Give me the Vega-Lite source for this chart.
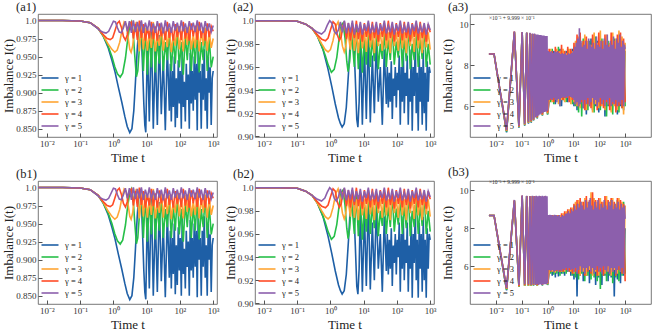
{
"$schema": "https://vega.github.io/schema/vega-lite/v6.json",
"background": "white",
"padding": {"left": 2, "top": 0, "right": 0, "bottom": 1},
"config": {
  "font": "Liberation Serif",
  "view": {"stroke": "#555", "strokeWidth": 0.8},
  "axis": {"domain": false, "grid": false, "tickSize": -4, "tickColor": "#555", "labelFont": "Liberation Serif", "labelFontSize": 9, "labelColor": "#333", "titleFont": "Liberation Serif", "titleFontSize": 13, "titleFontWeight": "normal", "titleColor": "#222", "labelPadding": 6},
  "axisX": {"titlePadding": 3},
  "axisY": {"titlePadding": 0},
  "legend": {"orient": "bottom-left", "offset": 6, "symbolType": "M-1.7,0L1.7,0", "symbolStrokeWidth": 2, "symbolSize": 100, "labelFont": "Liberation Serif", "labelFontSize": 8.5, "labelColor": "#222", "rowPadding": 1, "padding": 0, "labelOffset": 9},
  "title": {"anchor": "start", "frame": "group", "dx": -22, "fontSize": 12.5, "font": "Liberation Serif", "fontWeight": "normal", "offset": 1, "color": "#222"},
  "line": {"strokeWidth": 1.6, "clip": true}
},
"datasets": {
"a1": [
{"g":1,"t":0.0054,"v":1},{"g":1,"t":0.03,"v":1},{"g":1,"t":0.1,"v":0.9993},{"g":1,"t":0.2,"v":0.997},{"g":1,"t":0.35,"v":0.9885},{"g":1,"t":0.5,"v":0.978},{"g":1,"t":0.7,"v":0.962},{"g":1,"t":0.9,"v":0.945},{"g":1,"t":1.12,"v":0.9285},{"g":1,"t":1.4,"v":0.908},{"g":1,"t":1.78,"v":0.887},{"g":1,"t":2.2,"v":0.867},{"g":1,"t":2.6,"v":0.853},{"g":1,"t":3.1,"v":0.8445},{"g":1,"t":3.6,"v":0.85},{"g":1,"t":4.1,"v":0.875},{"g":1,"t":4.6,"v":0.915},{"g":1,"t":5.2,"v":0.96},{"g":1,"t":5.8,"v":0.99},{"g":1,"t":6.4,"v":0.998},{"g":1,"t":7,"v":0.975},{"g":1,"t":7.6,"v":0.93},{"g":1,"t":8.2,"v":0.885},{"g":1,"t":8.8,"v":0.855},{"g":1,"t":9.4,"v":0.845},{"g":1,"t":10.5,"v":0.97},{"g":1,"t":12,"v":0.86},{"g":1,"t":13.8,"v":0.99},{"g":1,"t":15.8,"v":0.85},{"g":1,"t":18.2,"v":0.96},{"g":1,"t":20.9,"v":0.855},{"g":1,"t":24,"v":0.98},{"g":1,"t":27.5,"v":0.87},{"g":1,"t":31.6,"v":0.95},{"g":1,"t":36.3,"v":0.848},{"g":1,"t":41.7,"v":0.965},{"g":1,"t":47.9,"v":0.875},{"g":1,"t":51.3,"v":0.94},{"g":1,"t":55,"v":0.86},{"g":1,"t":58.9,"v":0.93},{"g":1,"t":63.1,"v":0.88},{"g":1,"t":67.6,"v":0.95},{"g":1,"t":72.4,"v":0.852},{"g":1,"t":77.6,"v":0.92},{"g":1,"t":83.2,"v":0.865},{"g":1,"t":89.1,"v":0.945},{"g":1,"t":95.5,"v":0.885},{"g":1,"t":102,"v":0.93},{"g":1,"t":110,"v":0.85},{"g":1,"t":117,"v":0.96},{"g":1,"t":126,"v":0.88},{"g":1,"t":135,"v":0.915},{"g":1,"t":145,"v":0.86},{"g":1,"t":155,"v":0.94},{"g":1,"t":166,"v":0.89},{"g":1,"t":178,"v":0.925},{"g":1,"t":191,"v":0.85},{"g":1,"t":204,"v":0.955},{"g":1,"t":219,"v":0.885},{"g":1,"t":234,"v":0.93},{"g":1,"t":251,"v":0.875},{"g":1,"t":269,"v":0.95},{"g":1,"t":288,"v":0.89},{"g":1,"t":309,"v":0.94},{"g":1,"t":331,"v":0.848},{"g":1,"t":355,"v":0.97},{"g":1,"t":380,"v":0.9},{"g":1,"t":407,"v":0.93},{"g":1,"t":437,"v":0.85},{"g":1,"t":468,"v":0.94},{"g":1,"t":501,"v":0.89},{"g":1,"t":537,"v":0.96},{"g":1,"t":575,"v":0.875},{"g":1,"t":617,"v":0.92},{"g":1,"t":661,"v":0.85},{"g":1,"t":708,"v":0.95},{"g":1,"t":759,"v":0.9},{"g":1,"t":813,"v":0.935},{"g":1,"t":871,"v":0.855},{"g":1,"t":933,"v":0.92},{"g":1,"t":1000,"v":0.93},
{"g":2,"t":0.0054,"v":1},{"g":2,"t":0.03,"v":1},{"g":2,"t":0.1,"v":0.9993},{"g":2,"t":0.2,"v":0.997},{"g":2,"t":0.35,"v":0.989},{"g":2,"t":0.5,"v":0.978},{"g":2,"t":0.7,"v":0.964},{"g":2,"t":0.9,"v":0.95},{"g":2,"t":1.1,"v":0.936},{"g":2,"t":1.32,"v":0.926},{"g":2,"t":1.6,"v":0.9216},{"g":2,"t":1.9,"v":0.927},{"g":2,"t":2.3,"v":0.948},{"g":2,"t":2.7,"v":0.975},{"g":2,"t":3.1,"v":0.993},{"g":2,"t":3.5,"v":0.998},{"g":2,"t":3.9,"v":0.985},{"g":2,"t":4.4,"v":0.95},{"g":2,"t":4.9,"v":0.922},{"g":2,"t":5.4,"v":0.93},{"g":2,"t":6,"v":0.96},{"g":2,"t":6.92,"v":0.995},{"g":2,"t":7.94,"v":0.93},{"g":2,"t":9.12,"v":0.99},{"g":2,"t":10.5,"v":0.925},{"g":2,"t":12,"v":0.985},{"g":2,"t":13.8,"v":0.935},{"g":2,"t":15.8,"v":0.995},{"g":2,"t":18.2,"v":0.928},{"g":2,"t":20.9,"v":0.975},{"g":2,"t":24,"v":0.94},{"g":2,"t":27.5,"v":0.99},{"g":2,"t":31.6,"v":0.93},{"g":2,"t":36.3,"v":0.97},{"g":2,"t":41.7,"v":0.945},{"g":2,"t":47.9,"v":0.985},{"g":2,"t":55,"v":0.93},{"g":2,"t":63.1,"v":0.975},{"g":2,"t":72.4,"v":0.94},{"g":2,"t":83.2,"v":0.99},{"g":2,"t":95.5,"v":0.935},{"g":2,"t":110,"v":0.97},{"g":2,"t":126,"v":0.925},{"g":2,"t":145,"v":0.98},{"g":2,"t":166,"v":0.945},{"g":2,"t":191,"v":0.99},{"g":2,"t":219,"v":0.93},{"g":2,"t":251,"v":0.975},{"g":2,"t":288,"v":0.94},{"g":2,"t":331,"v":0.985},{"g":2,"t":380,"v":0.928},{"g":2,"t":437,"v":0.97},{"g":2,"t":501,"v":0.945},{"g":2,"t":575,"v":0.99},{"g":2,"t":661,"v":0.93},{"g":2,"t":759,"v":0.975},{"g":2,"t":871,"v":0.935},{"g":2,"t":1000,"v":0.95},
{"g":3,"t":0.0054,"v":1},{"g":3,"t":0.03,"v":1},{"g":3,"t":0.1,"v":0.9993},{"g":3,"t":0.2,"v":0.997},{"g":3,"t":0.35,"v":0.989},{"g":3,"t":0.5,"v":0.979},{"g":3,"t":0.7,"v":0.967},{"g":3,"t":0.9,"v":0.96},{"g":3,"t":1.1,"v":0.956},{"g":3,"t":1.3,"v":0.959},{"g":3,"t":1.55,"v":0.97},{"g":3,"t":1.8,"v":0.986},{"g":3,"t":2.1,"v":0.998},{"g":3,"t":2.4,"v":0.995},{"g":3,"t":2.8,"v":0.975},{"g":3,"t":3.1,"v":0.96},{"g":3,"t":3.4,"v":0.956},{"g":3,"t":3.8,"v":0.965},{"g":3,"t":4.3,"v":0.99},{"g":3,"t":4.9,"v":0.998},{"g":3,"t":5.25,"v":0.985},{"g":3,"t":6.03,"v":0.957},{"g":3,"t":6.92,"v":0.995},{"g":3,"t":7.94,"v":0.96},{"g":3,"t":9.12,"v":0.99},{"g":3,"t":10.5,"v":0.958},{"g":3,"t":12,"v":0.985},{"g":3,"t":13.8,"v":0.962},{"g":3,"t":15.8,"v":0.998},{"g":3,"t":18.2,"v":0.957},{"g":3,"t":20.9,"v":0.98},{"g":3,"t":24,"v":0.965},{"g":3,"t":27.5,"v":0.995},{"g":3,"t":31.6,"v":0.958},{"g":3,"t":36.3,"v":0.985},{"g":3,"t":41.7,"v":0.963},{"g":3,"t":47.9,"v":0.99},{"g":3,"t":55,"v":0.956},{"g":3,"t":63.1,"v":0.98},{"g":3,"t":72.4,"v":0.965},{"g":3,"t":83.2,"v":0.995},{"g":3,"t":95.5,"v":0.96},{"g":3,"t":110,"v":0.985},{"g":3,"t":126,"v":0.957},{"g":3,"t":145,"v":0.99},{"g":3,"t":166,"v":0.966},{"g":3,"t":191,"v":0.995},{"g":3,"t":219,"v":0.96},{"g":3,"t":251,"v":0.98},{"g":3,"t":288,"v":0.962},{"g":3,"t":331,"v":0.995},{"g":3,"t":380,"v":0.957},{"g":3,"t":437,"v":0.985},{"g":3,"t":501,"v":0.965},{"g":3,"t":575,"v":0.99},{"g":3,"t":661,"v":0.958},{"g":3,"t":759,"v":0.985},{"g":3,"t":871,"v":0.962},{"g":3,"t":1000,"v":0.975},
{"g":4,"t":0.0054,"v":1},{"g":4,"t":0.03,"v":1},{"g":4,"t":0.1,"v":0.9993},{"g":4,"t":0.2,"v":0.997},{"g":4,"t":0.35,"v":0.989},{"g":4,"t":0.5,"v":0.98},{"g":4,"t":0.65,"v":0.975},{"g":4,"t":0.8,"v":0.9735},{"g":4,"t":0.95,"v":0.976},{"g":4,"t":1.1,"v":0.985},{"g":4,"t":1.3,"v":0.996},{"g":4,"t":1.5,"v":0.999},{"g":4,"t":1.75,"v":0.99},{"g":4,"t":2,"v":0.978},{"g":4,"t":2.3,"v":0.973},{"g":4,"t":2.6,"v":0.98},{"g":4,"t":3,"v":0.995},{"g":4,"t":3.47,"v":0.998},{"g":4,"t":3.98,"v":0.975},{"g":4,"t":4.57,"v":0.995},{"g":4,"t":5.25,"v":0.973},{"g":4,"t":6.03,"v":1},{"g":4,"t":6.92,"v":0.976},{"g":4,"t":7.94,"v":0.995},{"g":4,"t":9.12,"v":0.972},{"g":4,"t":10.5,"v":0.99},{"g":4,"t":12,"v":0.975},{"g":4,"t":13.8,"v":0.998},{"g":4,"t":15.8,"v":0.974},{"g":4,"t":18.2,"v":0.992},{"g":4,"t":20.9,"v":0.972},{"g":4,"t":24,"v":0.996},{"g":4,"t":27.5,"v":0.978},{"g":4,"t":31.6,"v":0.99},{"g":4,"t":36.3,"v":0.973},{"g":4,"t":41.7,"v":0.998},{"g":4,"t":47.9,"v":0.976},{"g":4,"t":55,"v":0.99},{"g":4,"t":63.1,"v":0.972},{"g":4,"t":72.4,"v":0.995},{"g":4,"t":83.2,"v":0.977},{"g":4,"t":95.5,"v":0.992},{"g":4,"t":110,"v":0.973},{"g":4,"t":126,"v":0.998},{"g":4,"t":145,"v":0.975},{"g":4,"t":166,"v":0.99},{"g":4,"t":191,"v":0.972},{"g":4,"t":219,"v":0.996},{"g":4,"t":251,"v":0.978},{"g":4,"t":288,"v":0.993},{"g":4,"t":331,"v":0.973},{"g":4,"t":380,"v":0.998},{"g":4,"t":437,"v":0.976},{"g":4,"t":501,"v":0.99},{"g":4,"t":575,"v":0.972},{"g":4,"t":661,"v":0.996},{"g":4,"t":759,"v":0.977},{"g":4,"t":871,"v":0.992},{"g":4,"t":1000,"v":0.985},
{"g":5,"t":0.0054,"v":1},{"g":5,"t":0.03,"v":1},{"g":5,"t":0.1,"v":0.9993},{"g":5,"t":0.2,"v":0.997},{"g":5,"t":0.3,"v":0.991},{"g":5,"t":0.4,"v":0.986},{"g":5,"t":0.5,"v":0.9835},{"g":5,"t":0.6,"v":0.9826},{"g":5,"t":0.72,"v":0.985},{"g":5,"t":0.85,"v":0.992},{"g":5,"t":1,"v":0.999},{"g":5,"t":1.15,"v":0.998},{"g":5,"t":1.32,"v":0.99},{"g":5,"t":1.5,"v":0.984},{"g":5,"t":1.74,"v":0.983},{"g":5,"t":2,"v":0.99},{"g":5,"t":2.29,"v":0.999},{"g":5,"t":2.63,"v":0.985},{"g":5,"t":3.02,"v":0.999},{"g":5,"t":3.47,"v":0.983},{"g":5,"t":3.98,"v":1},{"g":5,"t":4.57,"v":0.984},{"g":5,"t":5.25,"v":0.998},{"g":5,"t":6.03,"v":0.985},{"g":5,"t":6.92,"v":1},{"g":5,"t":7.94,"v":0.983},{"g":5,"t":9.12,"v":0.997},{"g":5,"t":10.5,"v":0.986},{"g":5,"t":12,"v":1},{"g":5,"t":13.8,"v":0.984},{"g":5,"t":15.8,"v":0.996},{"g":5,"t":18.2,"v":0.983},{"g":5,"t":20.9,"v":0.999},{"g":5,"t":24,"v":0.986},{"g":5,"t":27.5,"v":0.997},{"g":5,"t":31.6,"v":0.982},{"g":5,"t":36.3,"v":1},{"g":5,"t":41.7,"v":0.985},{"g":5,"t":47.9,"v":0.996},{"g":5,"t":55,"v":0.983},{"g":5,"t":63.1,"v":0.999},{"g":5,"t":72.4,"v":0.986},{"g":5,"t":83.2,"v":0.997},{"g":5,"t":95.5,"v":0.984},{"g":5,"t":110,"v":1},{"g":5,"t":126,"v":0.985},{"g":5,"t":145,"v":0.996},{"g":5,"t":166,"v":0.983},{"g":5,"t":191,"v":0.999},{"g":5,"t":219,"v":0.987},{"g":5,"t":251,"v":0.997},{"g":5,"t":288,"v":0.984},{"g":5,"t":331,"v":1},{"g":5,"t":380,"v":0.986},{"g":5,"t":437,"v":0.997},{"g":5,"t":501,"v":0.983},{"g":5,"t":575,"v":0.999},{"g":5,"t":661,"v":0.986},{"g":5,"t":759,"v":0.996},{"g":5,"t":871,"v":0.984},{"g":5,"t":1000,"v":0.993}
],
"a2": [
{"g":1,"t":0.0054,"v":1},{"g":1,"t":0.03,"v":1},{"g":1,"t":0.1,"v":0.9995},{"g":1,"t":0.18,"v":0.997},{"g":1,"t":0.28,"v":0.9934},{"g":1,"t":0.4,"v":0.987},{"g":1,"t":0.6,"v":0.975},{"g":1,"t":0.85,"v":0.958},{"g":1,"t":1.1,"v":0.943},{"g":1,"t":1.4,"v":0.928},{"g":1,"t":1.75,"v":0.916},{"g":1,"t":2,"v":0.911},{"g":1,"t":2.25,"v":0.908},{"g":1,"t":2.6,"v":0.911},{"g":1,"t":3,"v":0.925},{"g":1,"t":3.5,"v":0.955},{"g":1,"t":4,"v":0.985},{"g":1,"t":4.5,"v":0.998},{"g":1,"t":5,"v":0.985},{"g":1,"t":5.6,"v":0.95},{"g":1,"t":6.2,"v":0.915},{"g":1,"t":6.7,"v":0.908},{"g":1,"t":7.3,"v":0.93},{"g":1,"t":7.94,"v":0.985},{"g":1,"t":9.12,"v":0.91},{"g":1,"t":10.5,"v":0.98},{"g":1,"t":12,"v":0.915},{"g":1,"t":13.8,"v":0.99},{"g":1,"t":15.8,"v":0.912},{"g":1,"t":18.2,"v":0.97},{"g":1,"t":20.9,"v":0.92},{"g":1,"t":24,"v":0.985},{"g":1,"t":27.5,"v":0.93},{"g":1,"t":31.6,"v":0.96},{"g":1,"t":36.3,"v":0.91},{"g":1,"t":41.7,"v":0.975},{"g":1,"t":47.9,"v":0.928},{"g":1,"t":51.3,"v":0.96},{"g":1,"t":55,"v":0.925},{"g":1,"t":58.9,"v":0.955},{"g":1,"t":63.1,"v":0.93},{"g":1,"t":67.6,"v":0.965},{"g":1,"t":72.4,"v":0.915},{"g":1,"t":77.6,"v":0.95},{"g":1,"t":83.2,"v":0.935},{"g":1,"t":89.1,"v":0.96},{"g":1,"t":95.5,"v":0.925},{"g":1,"t":102,"v":0.955},{"g":1,"t":110,"v":0.94},{"g":1,"t":117,"v":0.97},{"g":1,"t":126,"v":0.91},{"g":1,"t":135,"v":0.96},{"g":1,"t":145,"v":0.93},{"g":1,"t":155,"v":0.975},{"g":1,"t":166,"v":0.92},{"g":1,"t":178,"v":0.955},{"g":1,"t":191,"v":0.935},{"g":1,"t":204,"v":0.97},{"g":1,"t":219,"v":0.91},{"g":1,"t":234,"v":0.95},{"g":1,"t":251,"v":0.93},{"g":1,"t":269,"v":0.975},{"g":1,"t":288,"v":0.905},{"g":1,"t":309,"v":0.96},{"g":1,"t":331,"v":0.935},{"g":1,"t":355,"v":0.985},{"g":1,"t":380,"v":0.92},{"g":1,"t":407,"v":0.955},{"g":1,"t":437,"v":0.905},{"g":1,"t":468,"v":0.97},{"g":1,"t":501,"v":0.93},{"g":1,"t":537,"v":0.96},{"g":1,"t":575,"v":0.91},{"g":1,"t":617,"v":0.975},{"g":1,"t":661,"v":0.92},{"g":1,"t":708,"v":0.955},{"g":1,"t":759,"v":0.905},{"g":1,"t":813,"v":0.965},{"g":1,"t":871,"v":0.93},{"g":1,"t":933,"v":0.96},{"g":1,"t":1000,"v":0.955},
{"g":2,"t":0.0054,"v":1},{"g":2,"t":0.03,"v":1},{"g":2,"t":0.1,"v":0.9995},{"g":2,"t":0.18,"v":0.997},{"g":2,"t":0.28,"v":0.9934},{"g":2,"t":0.4,"v":0.987},{"g":2,"t":0.55,"v":0.978},{"g":2,"t":0.7,"v":0.97},{"g":2,"t":0.85,"v":0.962},{"g":2,"t":1.07,"v":0.9554},{"g":2,"t":1.3,"v":0.958},{"g":2,"t":1.55,"v":0.968},{"g":2,"t":1.8,"v":0.983},{"g":2,"t":2.1,"v":0.996},{"g":2,"t":2.4,"v":0.998},{"g":2,"t":2.75,"v":0.985},{"g":2,"t":3.1,"v":0.965},{"g":2,"t":3.4,"v":0.956},{"g":2,"t":3.8,"v":0.965},{"g":2,"t":4.3,"v":0.99},{"g":2,"t":5.25,"v":0.96},{"g":2,"t":6.03,"v":0.995},{"g":2,"t":6.92,"v":0.958},{"g":2,"t":7.94,"v":0.99},{"g":2,"t":9.12,"v":0.955},{"g":2,"t":10.5,"v":0.985},{"g":2,"t":12,"v":0.962},{"g":2,"t":13.8,"v":0.998},{"g":2,"t":15.8,"v":0.96},{"g":2,"t":18.2,"v":0.985},{"g":2,"t":20.9,"v":0.965},{"g":2,"t":24,"v":0.995},{"g":2,"t":27.5,"v":0.958},{"g":2,"t":31.6,"v":0.98},{"g":2,"t":36.3,"v":0.967},{"g":2,"t":41.7,"v":0.99},{"g":2,"t":47.9,"v":0.96},{"g":2,"t":55,"v":0.985},{"g":2,"t":63.1,"v":0.966},{"g":2,"t":72.4,"v":0.995},{"g":2,"t":83.2,"v":0.962},{"g":2,"t":95.5,"v":0.982},{"g":2,"t":110,"v":0.968},{"g":2,"t":126,"v":0.992},{"g":2,"t":145,"v":0.96},{"g":2,"t":166,"v":0.985},{"g":2,"t":191,"v":0.965},{"g":2,"t":219,"v":0.997},{"g":2,"t":251,"v":0.958},{"g":2,"t":288,"v":0.98},{"g":2,"t":331,"v":0.966},{"g":2,"t":380,"v":0.99},{"g":2,"t":437,"v":0.96},{"g":2,"t":501,"v":0.985},{"g":2,"t":575,"v":0.967},{"g":2,"t":661,"v":0.995},{"g":2,"t":759,"v":0.96},{"g":2,"t":871,"v":0.98},{"g":2,"t":1000,"v":0.962},
{"g":3,"t":0.0054,"v":1},{"g":3,"t":0.03,"v":1},{"g":3,"t":0.1,"v":0.9995},{"g":3,"t":0.18,"v":0.997},{"g":3,"t":0.28,"v":0.9934},{"g":3,"t":0.4,"v":0.987},{"g":3,"t":0.55,"v":0.98},{"g":3,"t":0.7,"v":0.975},{"g":3,"t":0.85,"v":0.973},{"g":3,"t":1,"v":0.975},{"g":3,"t":1.2,"v":0.983},{"g":3,"t":1.45,"v":0.995},{"g":3,"t":1.7,"v":0.999},{"g":3,"t":2,"v":0.99},{"g":3,"t":2.3,"v":0.978},{"g":3,"t":2.6,"v":0.973},{"g":3,"t":2.9,"v":0.978},{"g":3,"t":3.3,"v":0.992},{"g":3,"t":3.98,"v":0.975},{"g":3,"t":4.57,"v":0.998},{"g":3,"t":5.25,"v":0.974},{"g":3,"t":6.03,"v":0.99},{"g":3,"t":6.92,"v":0.972},{"g":3,"t":7.94,"v":0.996},{"g":3,"t":9.12,"v":0.976},{"g":3,"t":10.5,"v":0.99},{"g":3,"t":12,"v":0.973},{"g":3,"t":13.8,"v":0.997},{"g":3,"t":15.8,"v":0.977},{"g":3,"t":18.2,"v":0.99},{"g":3,"t":20.9,"v":0.972},{"g":3,"t":24,"v":0.995},{"g":3,"t":27.5,"v":0.978},{"g":3,"t":31.6,"v":0.99},{"g":3,"t":36.3,"v":0.974},{"g":3,"t":41.7,"v":0.998},{"g":3,"t":47.9,"v":0.976},{"g":3,"t":55,"v":0.99},{"g":3,"t":63.1,"v":0.972},{"g":3,"t":72.4,"v":0.996},{"g":3,"t":83.2,"v":0.978},{"g":3,"t":95.5,"v":0.99},{"g":3,"t":110,"v":0.974},{"g":3,"t":126,"v":0.997},{"g":3,"t":145,"v":0.976},{"g":3,"t":166,"v":0.99},{"g":3,"t":191,"v":0.972},{"g":3,"t":219,"v":0.996},{"g":3,"t":251,"v":0.978},{"g":3,"t":288,"v":0.992},{"g":3,"t":331,"v":0.973},{"g":3,"t":380,"v":0.998},{"g":3,"t":437,"v":0.976},{"g":3,"t":501,"v":0.99},{"g":3,"t":575,"v":0.972},{"g":3,"t":661,"v":0.996},{"g":3,"t":759,"v":0.977},{"g":3,"t":871,"v":0.99},{"g":3,"t":1000,"v":0.975},
{"g":4,"t":0.0054,"v":1},{"g":4,"t":0.03,"v":1},{"g":4,"t":0.1,"v":0.9995},{"g":4,"t":0.18,"v":0.997},{"g":4,"t":0.28,"v":0.9934},{"g":4,"t":0.4,"v":0.988},{"g":4,"t":0.55,"v":0.984},{"g":4,"t":0.71,"v":0.9827},{"g":4,"t":0.85,"v":0.985},{"g":4,"t":1,"v":0.992},{"g":4,"t":1.2,"v":0.999},{"g":4,"t":1.4,"v":0.997},{"g":4,"t":1.6,"v":0.988},{"g":4,"t":1.85,"v":0.983},{"g":4,"t":2.1,"v":0.986},{"g":4,"t":2.4,"v":0.996},{"g":4,"t":2.63,"v":0.999},{"g":4,"t":3.02,"v":0.984},{"g":4,"t":3.47,"v":0.998},{"g":4,"t":3.98,"v":0.983},{"g":4,"t":4.57,"v":0.996},{"g":4,"t":5.25,"v":0.985},{"g":4,"t":6.03,"v":1},{"g":4,"t":6.92,"v":0.984},{"g":4,"t":7.94,"v":0.995},{"g":4,"t":9.12,"v":0.982},{"g":4,"t":10.5,"v":0.998},{"g":4,"t":12,"v":0.986},{"g":4,"t":13.8,"v":0.996},{"g":4,"t":15.8,"v":0.983},{"g":4,"t":18.2,"v":0.999},{"g":4,"t":20.9,"v":0.985},{"g":4,"t":24,"v":0.995},{"g":4,"t":27.5,"v":0.982},{"g":4,"t":31.6,"v":0.998},{"g":4,"t":36.3,"v":0.986},{"g":4,"t":41.7,"v":0.996},{"g":4,"t":47.9,"v":0.983},{"g":4,"t":55,"v":1},{"g":4,"t":63.1,"v":0.985},{"g":4,"t":72.4,"v":0.995},{"g":4,"t":83.2,"v":0.982},{"g":4,"t":95.5,"v":0.998},{"g":4,"t":110,"v":0.986},{"g":4,"t":126,"v":0.996},{"g":4,"t":145,"v":0.983},{"g":4,"t":166,"v":0.999},{"g":4,"t":191,"v":0.985},{"g":4,"t":219,"v":0.995},{"g":4,"t":251,"v":0.982},{"g":4,"t":288,"v":0.998},{"g":4,"t":331,"v":0.986},{"g":4,"t":380,"v":0.996},{"g":4,"t":437,"v":0.983},{"g":4,"t":501,"v":0.999},{"g":4,"t":575,"v":0.985},{"g":4,"t":661,"v":0.995},{"g":4,"t":759,"v":0.982},{"g":4,"t":871,"v":0.997},{"g":4,"t":1000,"v":0.99},
{"g":5,"t":0.0054,"v":1},{"g":5,"t":0.03,"v":1},{"g":5,"t":0.1,"v":0.9995},{"g":5,"t":0.18,"v":0.997},{"g":5,"t":0.28,"v":0.9934},{"g":5,"t":0.38,"v":0.9905},{"g":5,"t":0.54,"v":0.9885},{"g":5,"t":0.68,"v":0.991},{"g":5,"t":0.8,"v":0.996},{"g":5,"t":0.95,"v":1},{"g":5,"t":1.1,"v":0.998},{"g":5,"t":1.3,"v":0.991},{"g":5,"t":1.5,"v":0.9885},{"g":5,"t":1.74,"v":0.992},{"g":5,"t":2,"v":0.999},{"g":5,"t":2.29,"v":0.99},{"g":5,"t":2.63,"v":1},{"g":5,"t":3.02,"v":0.989},{"g":5,"t":3.47,"v":0.998},{"g":5,"t":3.98,"v":0.99},{"g":5,"t":4.57,"v":1},{"g":5,"t":5.25,"v":0.988},{"g":5,"t":6.03,"v":0.997},{"g":5,"t":6.92,"v":0.99},{"g":5,"t":7.94,"v":0.999},{"g":5,"t":9.12,"v":0.988},{"g":5,"t":10.5,"v":0.997},{"g":5,"t":12,"v":0.991},{"g":5,"t":13.8,"v":1},{"g":5,"t":15.8,"v":0.989},{"g":5,"t":18.2,"v":0.996},{"g":5,"t":20.9,"v":0.99},{"g":5,"t":24,"v":0.999},{"g":5,"t":27.5,"v":0.988},{"g":5,"t":31.6,"v":0.997},{"g":5,"t":36.3,"v":0.991},{"g":5,"t":41.7,"v":1},{"g":5,"t":47.9,"v":0.989},{"g":5,"t":55,"v":0.996},{"g":5,"t":63.1,"v":0.99},{"g":5,"t":72.4,"v":0.999},{"g":5,"t":83.2,"v":0.988},{"g":5,"t":95.5,"v":0.997},{"g":5,"t":110,"v":0.991},{"g":5,"t":126,"v":1},{"g":5,"t":145,"v":0.989},{"g":5,"t":166,"v":0.996},{"g":5,"t":191,"v":0.99},{"g":5,"t":219,"v":0.999},{"g":5,"t":251,"v":0.988},{"g":5,"t":288,"v":0.997},{"g":5,"t":331,"v":0.991},{"g":5,"t":380,"v":1},{"g":5,"t":437,"v":0.989},{"g":5,"t":501,"v":0.996},{"g":5,"t":575,"v":0.99},{"g":5,"t":661,"v":0.998},{"g":5,"t":759,"v":0.988},{"g":5,"t":871,"v":0.997},{"g":5,"t":1000,"v":0.992}
],
"a3": [
{"g":1,"t":0.0054,"v":8.55},{"g":1,"t":0.0085,"v":8.55},{"g":1,"t":0.026,"v":4.72},{"g":1,"t":0.052,"v":9.6},{"g":1,"t":0.078,"v":4.95},{"g":1,"t":0.104,"v":9.6},{"g":1,"t":0.13,"v":5.05},{"g":1,"t":0.156,"v":9.58},{"g":1,"t":0.182,"v":5.15},{"g":1,"t":0.208,"v":9.55},{"g":1,"t":0.234,"v":5.2},{"g":1,"t":0.26,"v":9.52},{"g":1,"t":0.286,"v":5.3},{"g":1,"t":0.312,"v":9.5},{"g":1,"t":0.4,"v":5.4},{"g":1,"t":0.5,"v":9.45},{"g":1,"t":0.63,"v":5.55},{"g":1,"t":0.8,"v":9.4},{"g":1,"t":1,"v":5.6},
{"g":1,"t":1.15,"v":6.2},{"g":1,"t":1.32,"v":8.6},{"g":1,"t":1.51,"v":6.25},{"g":1,"t":1.74,"v":8.7},{"g":1,"t":2,"v":6.1},{"g":1,"t":2.29,"v":8.6},{"g":1,"t":2.63,"v":6.3},{"g":1,"t":3.02,"v":8.8},{"g":1,"t":3.47,"v":6},{"g":1,"t":3.98,"v":8.6},{"g":1,"t":4.57,"v":6.35},{"g":1,"t":5.25,"v":8.7},{"g":1,"t":6.03,"v":6.2},{"g":1,"t":6.92,"v":8.6},{"g":1,"t":7.94,"v":6.4},{"g":1,"t":9.12,"v":8.8},{"g":1,"t":10.5,"v":6},{"g":1,"t":12,"v":9},{"g":1,"t":13.8,"v":5.8},{"g":1,"t":15.8,"v":9.2},{"g":1,"t":18.2,"v":6},{"g":1,"t":20.9,"v":8.9},{"g":1,"t":24,"v":5.9},{"g":1,"t":27.5,"v":9.1},{"g":1,"t":31.6,"v":5.6},{"g":1,"t":36.3,"v":8.8},{"g":1,"t":41.7,"v":6.1},{"g":1,"t":47.9,"v":9.3},{"g":1,"t":55,"v":5.8},{"g":1,"t":63.1,"v":8.9},{"g":1,"t":72.4,"v":6},{"g":1,"t":83.2,"v":9.2},{"g":1,"t":95.5,"v":5.7},{"g":1,"t":110,"v":8.8},{"g":1,"t":126,"v":6.1},{"g":1,"t":145,"v":9},{"g":1,"t":166,"v":5.5},{"g":1,"t":191,"v":9.2},{"g":1,"t":219,"v":6},{"g":1,"t":251,"v":8.9},{"g":1,"t":288,"v":5.8},{"g":1,"t":331,"v":9.1},{"g":1,"t":380,"v":6.2},{"g":1,"t":437,"v":8.8},{"g":1,"t":501,"v":5.6},{"g":1,"t":575,"v":9},{"g":1,"t":661,"v":6},{"g":1,"t":759,"v":9.2},{"g":1,"t":871,"v":5.8},{"g":1,"t":1000,"v":8.7},
{"g":2,"t":0.0054,"v":8.55},{"g":2,"t":0.0085,"v":8.55},{"g":2,"t":0.026,"v":4.76},{"g":2,"t":0.052,"v":9.62},{"g":2,"t":0.078,"v":4.98},{"g":2,"t":0.104,"v":9.6},{"g":2,"t":0.13,"v":5.08},{"g":2,"t":0.156,"v":9.58},{"g":2,"t":0.182,"v":5.18},{"g":2,"t":0.208,"v":9.55},{"g":2,"t":0.234,"v":5.22},{"g":2,"t":0.26,"v":9.52},{"g":2,"t":0.286,"v":5.32},{"g":2,"t":0.312,"v":9.5},{"g":2,"t":0.4,"v":5.42},{"g":2,"t":0.5,"v":9.45},{"g":2,"t":0.63,"v":5.55},{"g":2,"t":0.8,"v":9.4},{"g":2,"t":1,"v":5.6},
{"g":2,"t":1.15,"v":8.7},{"g":2,"t":1.32,"v":6.2},{"g":2,"t":1.51,"v":8.8},{"g":2,"t":1.74,"v":6.1},{"g":2,"t":2,"v":8.6},{"g":2,"t":2.29,"v":6.3},{"g":2,"t":2.63,"v":8.9},{"g":2,"t":3.02,"v":6},{"g":2,"t":3.47,"v":8.7},{"g":2,"t":3.98,"v":6.3},{"g":2,"t":4.57,"v":8.6},{"g":2,"t":5.25,"v":6.2},{"g":2,"t":6.03,"v":8.8},{"g":2,"t":6.92,"v":6.4},{"g":2,"t":7.94,"v":8.7},{"g":2,"t":9.12,"v":6.1},{"g":2,"t":10.5,"v":8.9},{"g":2,"t":12,"v":6},{"g":2,"t":13.8,"v":9.1},{"g":2,"t":15.8,"v":5.7},{"g":2,"t":18.2,"v":9},{"g":2,"t":20.9,"v":5.5},{"g":2,"t":24,"v":9.3},{"g":2,"t":27.5,"v":6},{"g":2,"t":31.6,"v":8.9},{"g":2,"t":36.3,"v":5.8},{"g":2,"t":41.7,"v":9.2},{"g":2,"t":47.9,"v":6.1},{"g":2,"t":55,"v":9},{"g":2,"t":63.1,"v":5.7},{"g":2,"t":72.4,"v":9.4},{"g":2,"t":83.2,"v":6},{"g":2,"t":95.5,"v":8.9},{"g":2,"t":110,"v":5.8},{"g":2,"t":126,"v":9.3},{"g":2,"t":145,"v":6.1},{"g":2,"t":166,"v":9.1},{"g":2,"t":191,"v":5.5},{"g":2,"t":219,"v":9.2},{"g":2,"t":251,"v":6},{"g":2,"t":288,"v":8.8},{"g":2,"t":331,"v":5.6},{"g":2,"t":380,"v":9.3},{"g":2,"t":437,"v":6},{"g":2,"t":501,"v":9},{"g":2,"t":575,"v":5.7},{"g":2,"t":661,"v":9.2},{"g":2,"t":759,"v":5.9},{"g":2,"t":871,"v":9},{"g":2,"t":1000,"v":6},
{"g":3,"t":0.0054,"v":8.55},{"g":3,"t":0.0085,"v":8.55},{"g":3,"t":0.026,"v":4.8},{"g":3,"t":0.052,"v":9.63},{"g":3,"t":0.078,"v":5},{"g":3,"t":0.104,"v":9.6},{"g":3,"t":0.13,"v":5.1},{"g":3,"t":0.156,"v":9.58},{"g":3,"t":0.182,"v":5.2},{"g":3,"t":0.208,"v":9.55},{"g":3,"t":0.234,"v":5.25},{"g":3,"t":0.26,"v":9.52},{"g":3,"t":0.286,"v":5.33},{"g":3,"t":0.312,"v":9.5},{"g":3,"t":0.4,"v":5.45},{"g":3,"t":0.5,"v":9.45},{"g":3,"t":0.63,"v":5.58},{"g":3,"t":0.8,"v":9.4},{"g":3,"t":1,"v":5.65},
{"g":3,"t":1.15,"v":6.3},{"g":3,"t":1.32,"v":8.8},{"g":3,"t":1.51,"v":6.2},{"g":3,"t":1.74,"v":8.6},{"g":3,"t":2,"v":6.4},{"g":3,"t":2.29,"v":8.8},{"g":3,"t":2.63,"v":6.1},{"g":3,"t":3.02,"v":8.7},{"g":3,"t":3.47,"v":6.3},{"g":3,"t":3.98,"v":8.8},{"g":3,"t":4.57,"v":6.2},{"g":3,"t":5.25,"v":8.6},{"g":3,"t":6.03,"v":6.4},{"g":3,"t":6.92,"v":8.8},{"g":3,"t":7.94,"v":6.1},{"g":3,"t":9.12,"v":8.7},{"g":3,"t":10.5,"v":6.2},{"g":3,"t":12,"v":9.2},{"g":3,"t":13.8,"v":6},{"g":3,"t":15.8,"v":9.4},{"g":3,"t":18.2,"v":5.9},{"g":3,"t":20.9,"v":9.1},{"g":3,"t":24,"v":6.1},{"g":3,"t":27.5,"v":9.5},{"g":3,"t":31.6,"v":5.8},{"g":3,"t":36.3,"v":9.2},{"g":3,"t":41.7,"v":6},{"g":3,"t":47.9,"v":9},{"g":3,"t":55,"v":5.7},{"g":3,"t":63.1,"v":9.6},{"g":3,"t":72.4,"v":6.1},{"g":3,"t":83.2,"v":9.1},{"g":3,"t":95.5,"v":5.9},{"g":3,"t":110,"v":9.7},{"g":3,"t":126,"v":6},{"g":3,"t":145,"v":9.2},{"g":3,"t":166,"v":5.8},{"g":3,"t":191,"v":9.5},{"g":3,"t":219,"v":6.1},{"g":3,"t":251,"v":9.1},{"g":3,"t":288,"v":5.7},{"g":3,"t":331,"v":9.6},{"g":3,"t":380,"v":6},{"g":3,"t":437,"v":9.3},{"g":3,"t":501,"v":5.8},{"g":3,"t":575,"v":9.7},{"g":3,"t":661,"v":6.1},{"g":3,"t":759,"v":9.4},{"g":3,"t":871,"v":5.6},{"g":3,"t":1000,"v":9.1},
{"g":4,"t":0.0054,"v":8.55},{"g":4,"t":0.0085,"v":8.55},{"g":4,"t":0.026,"v":4.82},{"g":4,"t":0.052,"v":9.64},{"g":4,"t":0.078,"v":5.02},{"g":4,"t":0.104,"v":9.61},{"g":4,"t":0.13,"v":5.12},{"g":4,"t":0.156,"v":9.59},{"g":4,"t":0.182,"v":5.22},{"g":4,"t":0.208,"v":9.56},{"g":4,"t":0.234,"v":5.27},{"g":4,"t":0.26,"v":9.53},{"g":4,"t":0.286,"v":5.34},{"g":4,"t":0.312,"v":9.52},{"g":4,"t":0.4,"v":5.47},{"g":4,"t":0.5,"v":9.46},{"g":4,"t":0.63,"v":5.6},{"g":4,"t":0.8,"v":9.42},{"g":4,"t":1,"v":5.7},
{"g":4,"t":1.15,"v":8.8},{"g":4,"t":1.32,"v":6.3},{"g":4,"t":1.51,"v":8.7},{"g":4,"t":1.74,"v":6.2},{"g":4,"t":2,"v":8.9},{"g":4,"t":2.29,"v":6.4},{"g":4,"t":2.63,"v":8.7},{"g":4,"t":3.02,"v":6.2},{"g":4,"t":3.47,"v":9},{"g":4,"t":3.98,"v":6.3},{"g":4,"t":4.57,"v":8.7},{"g":4,"t":5.25,"v":6.4},{"g":4,"t":6.03,"v":8.9},{"g":4,"t":6.92,"v":6.2},{"g":4,"t":7.94,"v":8.8},{"g":4,"t":9.12,"v":6.3},{"g":4,"t":10.5,"v":9.1},{"g":4,"t":12,"v":6.1},{"g":4,"t":13.8,"v":9.5},{"g":4,"t":15.8,"v":6},{"g":4,"t":18.2,"v":9.6},{"g":4,"t":20.9,"v":6.2},{"g":4,"t":24,"v":9.2},{"g":4,"t":27.5,"v":5.8},{"g":4,"t":31.6,"v":9.4},{"g":4,"t":36.3,"v":6.1},{"g":4,"t":41.7,"v":9},{"g":4,"t":47.9,"v":5.9},{"g":4,"t":55,"v":9.5},{"g":4,"t":63.1,"v":6.2},{"g":4,"t":72.4,"v":9.1},{"g":4,"t":83.2,"v":5.8},{"g":4,"t":95.5,"v":9.6},{"g":4,"t":110,"v":6},{"g":4,"t":126,"v":9.2},{"g":4,"t":145,"v":5.9},{"g":4,"t":166,"v":9.5},{"g":4,"t":191,"v":6.2},{"g":4,"t":219,"v":9},{"g":4,"t":251,"v":5.8},{"g":4,"t":288,"v":9.6},{"g":4,"t":331,"v":6.1},{"g":4,"t":380,"v":9.2},{"g":4,"t":437,"v":5.7},{"g":4,"t":501,"v":9.5},{"g":4,"t":575,"v":6},{"g":4,"t":661,"v":9.6},{"g":4,"t":759,"v":5.9},{"g":4,"t":871,"v":9.3},{"g":4,"t":1000,"v":6.2},
{"g":5,"t":0.0054,"v":8.55},{"g":5,"t":0.0085,"v":8.55},{"g":5,"t":0.026,"v":4.85},{"g":5,"t":0.052,"v":9.65},{"g":5,"t":0.078,"v":5.05},{"g":5,"t":0.104,"v":9.62},{"g":5,"t":0.13,"v":5.15},{"g":5,"t":0.156,"v":9.6},{"g":5,"t":0.182,"v":5.25},{"g":5,"t":0.208,"v":9.58},{"g":5,"t":0.234,"v":5.3},{"g":5,"t":0.26,"v":9.55},{"g":5,"t":0.286,"v":5.35},{"g":5,"t":0.312,"v":9.55},{"g":5,"t":0.34,"v":5.45},{"g":5,"t":0.365,"v":9.5},{"g":5,"t":0.39,"v":5.5},{"g":5,"t":0.42,"v":9.5},{"g":5,"t":0.45,"v":5.55},{"g":5,"t":0.48,"v":9.48},{"g":5,"t":0.51,"v":5.6},{"g":5,"t":0.55,"v":9.47},{"g":5,"t":0.59,"v":5.65},{"g":5,"t":0.63,"v":9.45},{"g":5,"t":0.68,"v":5.7},{"g":5,"t":0.72,"v":9.45},{"g":5,"t":0.78,"v":5.72},{"g":5,"t":0.83,"v":9.43},{"g":5,"t":0.89,"v":5.75},{"g":5,"t":0.95,"v":9.43},{"g":5,"t":1,"v":5.78},
{"g":5,"t":1.07,"v":8.7},{"g":5,"t":1.15,"v":6.3},{"g":5,"t":1.23,"v":8.65},{"g":5,"t":1.32,"v":6.35},{"g":5,"t":1.41,"v":8.7},{"g":5,"t":1.51,"v":6.3},{"g":5,"t":1.62,"v":8.6},{"g":5,"t":1.74,"v":6.4},{"g":5,"t":1.86,"v":8.7},{"g":5,"t":2,"v":6.3},{"g":5,"t":2.14,"v":8.65},{"g":5,"t":2.29,"v":6.2},{"g":5,"t":2.46,"v":8.7},{"g":5,"t":2.63,"v":6.35},{"g":5,"t":2.82,"v":8.6},{"g":5,"t":3.02,"v":6},{"g":5,"t":3.24,"v":8.55},{"g":5,"t":3.47,"v":6.4},{"g":5,"t":3.72,"v":8.6},{"g":5,"t":3.98,"v":6.45},{"g":5,"t":4.27,"v":8.55},{"g":5,"t":4.57,"v":6.4},{"g":5,"t":4.9,"v":8.6},{"g":5,"t":5.25,"v":6.45},{"g":5,"t":5.62,"v":8.5},{"g":5,"t":6.03,"v":6.4},{"g":5,"t":6.46,"v":8.6},{"g":5,"t":6.92,"v":6.5},{"g":5,"t":7.41,"v":8.55},{"g":5,"t":7.94,"v":6.45},{"g":5,"t":8.51,"v":8.6},{"g":5,"t":9.12,"v":6.4},{"g":5,"t":9.77,"v":8.7},{"g":5,"t":10.5,"v":6.3},{"g":5,"t":11.2,"v":8.9},{"g":5,"t":12,"v":6.1},{"g":5,"t":12.9,"v":9.1},{"g":5,"t":13.8,"v":6.2},{"g":5,"t":14.8,"v":9.3},{"g":5,"t":15.8,"v":6},{"g":5,"t":17,"v":9.8},{"g":5,"t":18.2,"v":6.1},{"g":5,"t":19.5,"v":9.2},{"g":5,"t":20.9,"v":6.3},{"g":5,"t":22.4,"v":8.9},{"g":5,"t":24,"v":5.9},{"g":5,"t":25.7,"v":9},{"g":5,"t":27.5,"v":6.3},{"g":5,"t":29.5,"v":9.2},{"g":5,"t":31.6,"v":6.1},{"g":5,"t":33.9,"v":8.8},{"g":5,"t":36.3,"v":6.4},{"g":5,"t":38.9,"v":9.3},{"g":5,"t":41.7,"v":6},{"g":5,"t":44.7,"v":9},{"g":5,"t":47.9,"v":6.2},{"g":5,"t":51.3,"v":8.9},{"g":5,"t":55,"v":6.4},{"g":5,"t":58.9,"v":9.1},{"g":5,"t":63.1,"v":6.1},{"g":5,"t":67.6,"v":8.8},{"g":5,"t":72.4,"v":6.3},{"g":5,"t":77.6,"v":9.4},{"g":5,"t":83.2,"v":6},{"g":5,"t":89.1,"v":9},{"g":5,"t":95.5,"v":6.2},{"g":5,"t":102,"v":8.9},{"g":5,"t":110,"v":6.4},{"g":5,"t":117,"v":9.2},{"g":5,"t":126,"v":6.1},{"g":5,"t":135,"v":8.8},{"g":5,"t":145,"v":6.3},{"g":5,"t":155,"v":9.3},{"g":5,"t":166,"v":6},{"g":5,"t":178,"v":9},{"g":5,"t":191,"v":6.3},{"g":5,"t":204,"v":9.5},{"g":5,"t":219,"v":6.1},{"g":5,"t":234,"v":8.9},{"g":5,"t":251,"v":6.4},{"g":5,"t":269,"v":9.2},{"g":5,"t":288,"v":6},{"g":5,"t":309,"v":9},{"g":5,"t":331,"v":6.2},{"g":5,"t":355,"v":9.4},{"g":5,"t":380,"v":6.1},{"g":5,"t":407,"v":8.8},{"g":5,"t":437,"v":6.3},{"g":5,"t":468,"v":9.3},{"g":5,"t":501,"v":6},{"g":5,"t":537,"v":9.1},{"g":5,"t":575,"v":6.2},{"g":5,"t":617,"v":9.5},{"g":5,"t":661,"v":6.1},{"g":5,"t":708,"v":8.9},{"g":5,"t":759,"v":6.3},{"g":5,"t":813,"v":9.2},{"g":5,"t":871,"v":6},{"g":5,"t":933,"v":9},{"g":5,"t":1000,"v":8.8}
],
"b3": [
{"g":1,"t":0.0054,"v":8.68},{"g":1,"t":0.0085,"v":8.68},{"g":1,"t":0.026,"v":4.72},{"g":1,"t":0.052,"v":9.45},{"g":1,"t":0.078,"v":4.9},{"g":1,"t":0.104,"v":9.7},{"g":1,"t":0.13,"v":4.95},{"g":1,"t":0.156,"v":9.7},{"g":1,"t":0.182,"v":4.95},{"g":1,"t":0.208,"v":9.68},{"g":1,"t":0.234,"v":4.95},{"g":1,"t":0.26,"v":9.7},{"g":1,"t":0.286,"v":4.98},{"g":1,"t":0.312,"v":9.68},{"g":1,"t":0.4,"v":4.95},{"g":1,"t":0.5,"v":9.7},{"g":1,"t":0.63,"v":4.98},{"g":1,"t":0.8,"v":9.7},{"g":1,"t":1,"v":5},
{"g":1,"t":1.15,"v":5.6},{"g":1,"t":1.32,"v":8.7},{"g":1,"t":1.51,"v":5.5},{"g":1,"t":1.74,"v":8.6},{"g":1,"t":2,"v":5.4},{"g":1,"t":2.29,"v":8.7},{"g":1,"t":2.63,"v":5.45},{"g":1,"t":3.02,"v":8.6},{"g":1,"t":3.47,"v":5.6},{"g":1,"t":3.98,"v":8.7},{"g":1,"t":4.57,"v":5.5},{"g":1,"t":5.25,"v":8.8},{"g":1,"t":6.03,"v":5.7},{"g":1,"t":6.92,"v":8.9},{"g":1,"t":7.94,"v":5.5},{"g":1,"t":9.12,"v":8.8},{"g":1,"t":10.5,"v":5.3},{"g":1,"t":12,"v":9.1},{"g":1,"t":13.8,"v":4.4},{"g":1,"t":15.8,"v":9},{"g":1,"t":18.2,"v":5.5},{"g":1,"t":20.9,"v":9.2},{"g":1,"t":24,"v":5.2},{"g":1,"t":27.5,"v":9},{"g":1,"t":31.6,"v":5.5},{"g":1,"t":36.3,"v":9.3},{"g":1,"t":41.7,"v":5.1},{"g":1,"t":47.9,"v":9.4},{"g":1,"t":55,"v":5.6},{"g":1,"t":63.1,"v":9},{"g":1,"t":72.4,"v":5},{"g":1,"t":83.2,"v":9.2},{"g":1,"t":95.5,"v":5.4},{"g":1,"t":110,"v":9.1},{"g":1,"t":126,"v":5},{"g":1,"t":145,"v":9.3},{"g":1,"t":166,"v":5.5},{"g":1,"t":191,"v":8.9},{"g":1,"t":219,"v":5.2},{"g":1,"t":251,"v":9.2},{"g":1,"t":288,"v":5.4},{"g":1,"t":331,"v":9},{"g":1,"t":380,"v":4.4},{"g":1,"t":437,"v":9.2},{"g":1,"t":501,"v":5.3},{"g":1,"t":575,"v":9},{"g":1,"t":661,"v":5.1},{"g":1,"t":759,"v":9.3},{"g":1,"t":871,"v":5.5},{"g":1,"t":1000,"v":8},
{"g":2,"t":0.0054,"v":8.68},{"g":2,"t":0.0085,"v":8.68},{"g":2,"t":0.026,"v":4.75},{"g":2,"t":0.052,"v":9.45},{"g":2,"t":0.078,"v":4.9},{"g":2,"t":0.104,"v":9.7},{"g":2,"t":0.13,"v":4.95},{"g":2,"t":0.156,"v":9.7},{"g":2,"t":0.182,"v":4.95},{"g":2,"t":0.208,"v":9.68},{"g":2,"t":0.234,"v":4.95},{"g":2,"t":0.26,"v":9.7},{"g":2,"t":0.286,"v":4.98},{"g":2,"t":0.312,"v":9.68},{"g":2,"t":0.4,"v":4.95},{"g":2,"t":0.5,"v":9.7},{"g":2,"t":0.63,"v":4.98},{"g":2,"t":0.8,"v":9.7},{"g":2,"t":1,"v":5},
{"g":2,"t":1.15,"v":8.7},{"g":2,"t":1.32,"v":5.6},{"g":2,"t":1.51,"v":8.7},{"g":2,"t":1.74,"v":5.55},{"g":2,"t":2,"v":8.6},{"g":2,"t":2.29,"v":5.6},{"g":2,"t":2.63,"v":8.7},{"g":2,"t":3.02,"v":5.5},{"g":2,"t":3.47,"v":8.7},{"g":2,"t":3.98,"v":5.6},{"g":2,"t":4.57,"v":8.8},{"g":2,"t":5.25,"v":5.6},{"g":2,"t":6.03,"v":8.9},{"g":2,"t":6.92,"v":5.7},{"g":2,"t":7.94,"v":9},{"g":2,"t":9.12,"v":5.5},{"g":2,"t":10.5,"v":9.2},{"g":2,"t":12,"v":5.4},{"g":2,"t":13.8,"v":9.3},{"g":2,"t":15.8,"v":5.3},{"g":2,"t":18.2,"v":9.4},{"g":2,"t":20.9,"v":5.6},{"g":2,"t":24,"v":9.1},{"g":2,"t":27.5,"v":5.2},{"g":2,"t":31.6,"v":9.5},{"g":2,"t":36.3,"v":5.5},{"g":2,"t":41.7,"v":9.2},{"g":2,"t":47.9,"v":5.3},{"g":2,"t":55,"v":9.6},{"g":2,"t":63.1,"v":5.4},{"g":2,"t":72.4,"v":9.1},{"g":2,"t":83.2,"v":5.2},{"g":2,"t":95.5,"v":9.3},{"g":2,"t":110,"v":4.8},{"g":2,"t":126,"v":9.2},{"g":2,"t":145,"v":5.5},{"g":2,"t":166,"v":9.4},{"g":2,"t":191,"v":5.2},{"g":2,"t":219,"v":9.1},{"g":2,"t":251,"v":5.5},{"g":2,"t":288,"v":9.5},{"g":2,"t":331,"v":5.1},{"g":2,"t":380,"v":9.2},{"g":2,"t":437,"v":5.4},{"g":2,"t":501,"v":9.5},{"g":2,"t":575,"v":5.2},{"g":2,"t":661,"v":9.1},{"g":2,"t":759,"v":5.5},{"g":2,"t":871,"v":9.4},{"g":2,"t":1000,"v":5.6},
{"g":3,"t":0.0054,"v":8.68},{"g":3,"t":0.0085,"v":8.68},{"g":3,"t":0.026,"v":4.8},{"g":3,"t":0.052,"v":9.47},{"g":3,"t":0.078,"v":4.92},{"g":3,"t":0.104,"v":9.72},{"g":3,"t":0.13,"v":4.97},{"g":3,"t":0.156,"v":9.7},{"g":3,"t":0.182,"v":4.97},{"g":3,"t":0.208,"v":9.7},{"g":3,"t":0.234,"v":4.97},{"g":3,"t":0.26,"v":9.7},{"g":3,"t":0.286,"v":5},{"g":3,"t":0.312,"v":9.7},{"g":3,"t":0.4,"v":4.97},{"g":3,"t":0.5,"v":9.7},{"g":3,"t":0.63,"v":5},{"g":3,"t":0.8,"v":9.7},{"g":3,"t":1,"v":5.05},
{"g":3,"t":1.15,"v":5.7},{"g":3,"t":1.32,"v":8.7},{"g":3,"t":1.51,"v":5.7},{"g":3,"t":1.74,"v":8.7},{"g":3,"t":2,"v":5.65},{"g":3,"t":2.29,"v":8.7},{"g":3,"t":2.63,"v":5.7},{"g":3,"t":3.02,"v":8.7},{"g":3,"t":3.47,"v":5.7},{"g":3,"t":3.98,"v":8.8},{"g":3,"t":4.57,"v":5.7},{"g":3,"t":5.25,"v":8.9},{"g":3,"t":6.03,"v":5.8},{"g":3,"t":6.92,"v":9},{"g":3,"t":7.94,"v":5.7},{"g":3,"t":9.12,"v":9.1},{"g":3,"t":10.5,"v":5.6},{"g":3,"t":12,"v":9.4},{"g":3,"t":13.8,"v":5.7},{"g":3,"t":15.8,"v":9.5},{"g":3,"t":18.2,"v":5.5},{"g":3,"t":20.9,"v":9.4},{"g":3,"t":24,"v":5.7},{"g":3,"t":27.5,"v":9.6},{"g":3,"t":31.6,"v":5.5},{"g":3,"t":36.3,"v":9.4},{"g":3,"t":41.7,"v":5.8},{"g":3,"t":47.9,"v":9.9},{"g":3,"t":55,"v":5.5},{"g":3,"t":63.1,"v":9.6},{"g":3,"t":72.4,"v":5.7},{"g":3,"t":83.2,"v":9.4},{"g":3,"t":95.5,"v":5.5},{"g":3,"t":110,"v":9.6},{"g":3,"t":126,"v":5.8},{"g":3,"t":145,"v":9.4},{"g":3,"t":166,"v":5.6},{"g":3,"t":191,"v":9.7},{"g":3,"t":219,"v":5.7},{"g":3,"t":251,"v":9.4},{"g":3,"t":288,"v":5.5},{"g":3,"t":331,"v":9.6},{"g":3,"t":380,"v":5.8},{"g":3,"t":437,"v":9.3},{"g":3,"t":501,"v":5.6},{"g":3,"t":575,"v":9.6},{"g":3,"t":661,"v":5.7},{"g":3,"t":759,"v":9.4},{"g":3,"t":871,"v":5.6},{"g":3,"t":1000,"v":9.2},
{"g":4,"t":0.0054,"v":8.68},{"g":4,"t":0.0085,"v":8.68},{"g":4,"t":0.026,"v":4.82},{"g":4,"t":0.052,"v":9.48},{"g":4,"t":0.078,"v":4.95},{"g":4,"t":0.104,"v":9.72},{"g":4,"t":0.13,"v":5},{"g":4,"t":0.156,"v":9.71},{"g":4,"t":0.182,"v":5},{"g":4,"t":0.208,"v":9.7},{"g":4,"t":0.234,"v":5},{"g":4,"t":0.26,"v":9.71},{"g":4,"t":0.286,"v":5.02},{"g":4,"t":0.312,"v":9.7},{"g":4,"t":0.4,"v":5},{"g":4,"t":0.5,"v":9.71},{"g":4,"t":0.63,"v":5.02},{"g":4,"t":0.8,"v":9.71},{"g":4,"t":1,"v":5.08},
{"g":4,"t":1.15,"v":8.7},{"g":4,"t":1.32,"v":5.7},{"g":4,"t":1.51,"v":8.7},{"g":4,"t":1.74,"v":5.7},{"g":4,"t":2,"v":8.7},{"g":4,"t":2.29,"v":5.75},{"g":4,"t":2.63,"v":8.7},{"g":4,"t":3.02,"v":5.7},{"g":4,"t":3.47,"v":8.8},{"g":4,"t":3.98,"v":5.7},{"g":4,"t":4.57,"v":8.9},{"g":4,"t":5.25,"v":5.8},{"g":4,"t":6.03,"v":9},{"g":4,"t":6.92,"v":5.7},{"g":4,"t":7.94,"v":9.1},{"g":4,"t":9.12,"v":5.6},{"g":4,"t":10.5,"v":9.3},{"g":4,"t":12,"v":5.7},{"g":4,"t":13.8,"v":9.5},{"g":4,"t":15.8,"v":5.6},{"g":4,"t":18.2,"v":9.6},{"g":4,"t":20.9,"v":5.8},{"g":4,"t":24,"v":9.4},{"g":4,"t":27.5,"v":5.5},{"g":4,"t":31.6,"v":9.7},{"g":4,"t":36.3,"v":5.7},{"g":4,"t":41.7,"v":9.5},{"g":4,"t":47.9,"v":5.6},{"g":4,"t":55,"v":9.9},{"g":4,"t":63.1,"v":5.8},{"g":4,"t":72.4,"v":9.5},{"g":4,"t":83.2,"v":5.5},{"g":4,"t":95.5,"v":9.6},{"g":4,"t":110,"v":5.7},{"g":4,"t":126,"v":9.4},{"g":4,"t":145,"v":5.5},{"g":4,"t":166,"v":9.7},{"g":4,"t":191,"v":5.8},{"g":4,"t":219,"v":9.5},{"g":4,"t":251,"v":5.6},{"g":4,"t":288,"v":9.6},{"g":4,"t":331,"v":5.7},{"g":4,"t":380,"v":9.4},{"g":4,"t":437,"v":5.5},{"g":4,"t":501,"v":9.6},{"g":4,"t":575,"v":5.8},{"g":4,"t":661,"v":9.5},{"g":4,"t":759,"v":5.6},{"g":4,"t":871,"v":9.3},{"g":4,"t":1000,"v":5.2},
{"g":5,"t":0.0054,"v":8.68},{"g":5,"t":0.0085,"v":8.68},{"g":5,"t":0.026,"v":4.85},{"g":5,"t":0.052,"v":9.5},{"g":5,"t":0.078,"v":5},{"g":5,"t":0.104,"v":9.75},{"g":5,"t":0.13,"v":5.05},{"g":5,"t":0.156,"v":9.72},{"g":5,"t":0.182,"v":5.05},{"g":5,"t":0.208,"v":9.7},{"g":5,"t":0.234,"v":5},{"g":5,"t":0.26,"v":9.72},{"g":5,"t":0.286,"v":5.05},{"g":5,"t":0.312,"v":9.7},{"g":5,"t":0.34,"v":5},{"g":5,"t":0.365,"v":9.72},{"g":5,"t":0.39,"v":5.05},{"g":5,"t":0.42,"v":9.7},{"g":5,"t":0.45,"v":5},{"g":5,"t":0.48,"v":9.72},{"g":5,"t":0.51,"v":5.05},{"g":5,"t":0.55,"v":9.7},{"g":5,"t":0.59,"v":5},{"g":5,"t":0.63,"v":9.72},{"g":5,"t":0.68,"v":5.05},{"g":5,"t":0.72,"v":9.7},{"g":5,"t":0.78,"v":5.05},{"g":5,"t":0.83,"v":9.72},{"g":5,"t":0.89,"v":5.05},{"g":5,"t":0.95,"v":9.7},{"g":5,"t":1,"v":5.1},
{"g":5,"t":1.07,"v":8.7},{"g":5,"t":1.15,"v":5.8},{"g":5,"t":1.23,"v":8.72},{"g":5,"t":1.32,"v":5.75},{"g":5,"t":1.41,"v":8.7},{"g":5,"t":1.51,"v":5.8},{"g":5,"t":1.62,"v":8.68},{"g":5,"t":1.74,"v":5.7},{"g":5,"t":1.86,"v":8.72},{"g":5,"t":2,"v":5.75},{"g":5,"t":2.14,"v":8.7},{"g":5,"t":2.29,"v":5.8},{"g":5,"t":2.46,"v":8.65},{"g":5,"t":2.63,"v":5.7},{"g":5,"t":2.82,"v":8.7},{"g":5,"t":3.02,"v":5.8},{"g":5,"t":3.24,"v":8.6},{"g":5,"t":3.47,"v":5.75},{"g":5,"t":3.72,"v":8.7},{"g":5,"t":3.98,"v":5.85},{"g":5,"t":4.27,"v":8.65},{"g":5,"t":4.57,"v":5.8},{"g":5,"t":4.9,"v":8.75},{"g":5,"t":5.25,"v":5.9},{"g":5,"t":5.62,"v":8.8},{"g":5,"t":6.03,"v":5.75},{"g":5,"t":6.46,"v":8.9},{"g":5,"t":6.92,"v":5.9},{"g":5,"t":7.41,"v":8.8},{"g":5,"t":7.94,"v":5.8},{"g":5,"t":8.51,"v":9},{"g":5,"t":9.12,"v":5.85},{"g":5,"t":9.77,"v":8.9},{"g":5,"t":10.5,"v":5.7},{"g":5,"t":11.2,"v":9.2},{"g":5,"t":12,"v":5.9},{"g":5,"t":12.9,"v":9},{"g":5,"t":13.8,"v":5.6},{"g":5,"t":14.8,"v":9.3},{"g":5,"t":15.8,"v":5.8},{"g":5,"t":17,"v":9.1},{"g":5,"t":18.2,"v":6},{"g":5,"t":19.5,"v":9.4},{"g":5,"t":20.9,"v":5.7},{"g":5,"t":22.4,"v":9.2},{"g":5,"t":24,"v":5.9},{"g":5,"t":25.7,"v":9},{"g":5,"t":27.5,"v":5.6},{"g":5,"t":29.5,"v":9.5},{"g":5,"t":31.6,"v":5.9},{"g":5,"t":33.9,"v":9.1},{"g":5,"t":36.3,"v":5.8},{"g":5,"t":38.9,"v":9.4},{"g":5,"t":41.7,"v":6},{"g":5,"t":44.7,"v":9.6},{"g":5,"t":47.9,"v":5.7},{"g":5,"t":51.3,"v":9.2},{"g":5,"t":55,"v":5.9},{"g":5,"t":58.9,"v":9},{"g":5,"t":63.1,"v":5.6},{"g":5,"t":67.6,"v":9.4},{"g":5,"t":72.4,"v":5.8},{"g":5,"t":77.6,"v":9.1},{"g":5,"t":83.2,"v":6},{"g":5,"t":89.1,"v":9.5},{"g":5,"t":95.5,"v":5.7},{"g":5,"t":102,"v":9},{"g":5,"t":110,"v":5.9},{"g":5,"t":117,"v":9.3},{"g":5,"t":126,"v":5.6},{"g":5,"t":135,"v":9.1},{"g":5,"t":145,"v":6},{"g":5,"t":155,"v":9.5},{"g":5,"t":166,"v":5.8},{"g":5,"t":178,"v":9.2},{"g":5,"t":191,"v":5.7},{"g":5,"t":204,"v":9},{"g":5,"t":219,"v":6},{"g":5,"t":234,"v":9.4},{"g":5,"t":251,"v":5.6},{"g":5,"t":269,"v":9.2},{"g":5,"t":288,"v":5.9},{"g":5,"t":309,"v":9.5},{"g":5,"t":331,"v":5.7},{"g":5,"t":355,"v":9},{"g":5,"t":380,"v":5.9},{"g":5,"t":407,"v":9.3},{"g":5,"t":437,"v":5.6},{"g":5,"t":468,"v":9.1},{"g":5,"t":501,"v":5.8},{"g":5,"t":537,"v":9.4},{"g":5,"t":575,"v":6},{"g":5,"t":617,"v":9},{"g":5,"t":661,"v":5.7},{"g":5,"t":708,"v":9.3},{"g":5,"t":759,"v":5.9},{"g":5,"t":813,"v":9.1},{"g":5,"t":871,"v":5.6},{"g":5,"t":933,"v":9.2},{"g":5,"t":1000,"v":8.5}
]
},
"columns": 3,
"align": "each",
"spacing": {"row": 0, "column": 3},
"resolve": {"scale": {"x": "independent", "y": "independent", "color": "independent"}, "legend": {"color": "independent"}},
"concat": [
{"title": "(a1)", "width": 179, "height": 123, "data": {"name": "a1"}, "mark": {"type": "line"},
 "encoding": {
  "x": {"field": "t", "type": "quantitative", "scale": {"type": "log", "domain": [0.0054, 1300]}, "axis": {"values": [0.01,0.1,1,10,100,1000], "labelExpr": "datum.value < 0.05 ? '10⁻²' : datum.value < 0.5 ? '10⁻¹' : datum.value < 5 ? '10⁰' : datum.value < 50 ? '10¹' : datum.value < 500 ? '10²' : '10³'", "title": "Time t"}},
  "y": {"field": "v", "type": "quantitative", "scale": {"domain": [0.8385, 1.009]}, "axis": {"values": [0.85,0.875,0.9,0.925,0.95,0.975,1], "labelExpr": "datum.value == 1 ? '1.0' : format(datum.value, '.3f')", "title": "Imbalance I(t)"}},
  "color": {"field": "g", "type": "nominal", "scale": {"domain": [1,2,3,4,5], "range": ["#1e5fa6","#26bf48","#ffa534","#ff4b26","#8c5fac"]}, "legend": {"title": null, "labelExpr": "'γ = ' + datum.label"}}
 }},
{"title": "(a2)", "width": 179, "height": 123, "data": {"name": "a2"}, "mark": {"type": "line"},
 "encoding": {
  "x": {"field": "t", "type": "quantitative", "scale": {"type": "log", "domain": [0.0054, 1300]}, "axis": {"values": [0.01,0.1,1,10,100,1000], "labelExpr": "datum.value < 0.05 ? '10⁻²' : datum.value < 0.5 ? '10⁻¹' : datum.value < 5 ? '10⁰' : datum.value < 50 ? '10¹' : datum.value < 500 ? '10²' : '10³'", "title": "Time t"}},
  "y": {"field": "v", "type": "quantitative", "scale": {"domain": [0.8995, 1.0058]}, "axis": {"values": [0.9,0.92,0.94,0.96,0.98,1], "labelExpr": "datum.value == 1 ? '1.0' : format(datum.value, '.2f')", "title": "Imbalance I(t)"}},
  "color": {"field": "g", "type": "nominal", "scale": {"domain": [1,2,3,4,5], "range": ["#1e5fa6","#26bf48","#ffa534","#ff4b26","#8c5fac"]}, "legend": {"title": null, "labelExpr": "'γ = ' + datum.label"}}
 }},
{"title": "(a3)", "width": 181, "height": 123,
 "layer": [
  {"data": {"name": "a3"}, "mark": {"type": "line"},
   "encoding": {
    "x": {"field": "t", "type": "quantitative", "scale": {"type": "log", "domain": [0.0054, 1300]}, "axis": {"values": [0.01,0.1,1,10,100,1000], "labelExpr": "datum.value < 0.05 ? '10⁻²' : datum.value < 0.5 ? '10⁻¹' : datum.value < 5 ? '10⁰' : datum.value < 50 ? '10¹' : datum.value < 500 ? '10²' : '10³'", "title": "Time t"}},
    "y": {"field": "v", "type": "quantitative", "scale": {"domain": [4.5, 10.1]}, "axis": {"values": [6,7,8,9,10], "title": "Imbalance I(t)", "titlePadding": 5}},
    "color": {"field": "g", "type": "nominal", "scale": {"domain": [1,2,3,4,5], "range": ["#1e5fa6","#26bf48","#ffa534","#ff4b26","#8c5fac"]}, "legend": {"title": null, "labelExpr": "'γ = ' + datum.label"}}
   }},
  {"data": {"values": [{"note": "×10⁻⁵ + 9.999 × 10⁻¹"}]}, "mark": {"type": "text", "align": "left", "baseline": "bottom", "fontSize": 5.5, "dy": -1, "font": "Liberation Serif", "color": "#333"},
   "encoding": {"x": {"datum": 0.0054}, "y": {"datum": 10.1}, "text": {"field": "note"}}}
 ]},
{"title": "(b1)", "width": 179, "height": 123, "data": {"name": "a1"}, "mark": {"type": "line"},
 "encoding": {
  "x": {"field": "t", "type": "quantitative", "scale": {"type": "log", "domain": [0.0054, 1300]}, "axis": {"values": [0.01,0.1,1,10,100,1000], "labelExpr": "datum.value < 0.05 ? '10⁻²' : datum.value < 0.5 ? '10⁻¹' : datum.value < 5 ? '10⁰' : datum.value < 50 ? '10¹' : datum.value < 500 ? '10²' : '10³'", "title": "Time t"}},
  "y": {"field": "v", "type": "quantitative", "scale": {"domain": [0.8385, 1.009]}, "axis": {"values": [0.85,0.875,0.9,0.925,0.95,0.975,1], "labelExpr": "datum.value == 1 ? '1.0' : format(datum.value, '.3f')", "title": "Imbalance I(t)"}},
  "color": {"field": "g", "type": "nominal", "scale": {"domain": [1,2,3,4,5], "range": ["#1e5fa6","#26bf48","#ffa534","#ff4b26","#8c5fac"]}, "legend": {"title": null, "labelExpr": "'γ = ' + datum.label"}}
 }},
{"title": "(b2)", "width": 179, "height": 123, "data": {"name": "a2"}, "mark": {"type": "line"},
 "encoding": {
  "x": {"field": "t", "type": "quantitative", "scale": {"type": "log", "domain": [0.0054, 1300]}, "axis": {"values": [0.01,0.1,1,10,100,1000], "labelExpr": "datum.value < 0.05 ? '10⁻²' : datum.value < 0.5 ? '10⁻¹' : datum.value < 5 ? '10⁰' : datum.value < 50 ? '10¹' : datum.value < 500 ? '10²' : '10³'", "title": "Time t"}},
  "y": {"field": "v", "type": "quantitative", "scale": {"domain": [0.8995, 1.0058]}, "axis": {"values": [0.9,0.92,0.94,0.96,0.98,1], "labelExpr": "datum.value == 1 ? '1.0' : format(datum.value, '.2f')", "title": "Imbalance I(t)"}},
  "color": {"field": "g", "type": "nominal", "scale": {"domain": [1,2,3,4,5], "range": ["#1e5fa6","#26bf48","#ffa534","#ff4b26","#8c5fac"]}, "legend": {"title": null, "labelExpr": "'γ = ' + datum.label"}}
 }},
{"title": "(b3)", "width": 181, "height": 123,
 "layer": [
  {"data": {"name": "b3"}, "mark": {"type": "line"},
   "encoding": {
    "x": {"field": "t", "type": "quantitative", "scale": {"type": "log", "domain": [0.0054, 1300]}, "axis": {"values": [0.01,0.1,1,10,100,1000], "labelExpr": "datum.value < 0.05 ? '10⁻²' : datum.value < 0.5 ? '10⁻¹' : datum.value < 5 ? '10⁰' : datum.value < 50 ? '10¹' : datum.value < 500 ? '10²' : '10³'", "title": "Time t"}},
    "y": {"field": "v", "type": "quantitative", "scale": {"domain": [4.2, 10.25]}, "axis": {"values": [6,8,10], "title": "Imbalance I(t)", "titlePadding": 5}},
    "color": {"field": "g", "type": "nominal", "scale": {"domain": [1,2,3,4,5], "range": ["#1e5fa6","#26bf48","#ffa534","#ff4b26","#8c5fac"]}, "legend": {"title": null, "labelExpr": "'γ = ' + datum.label"}}
   }},
  {"data": {"values": [{"note": "×10⁻⁵ + 9.999 × 10⁻¹"}]}, "mark": {"type": "text", "align": "left", "baseline": "bottom", "fontSize": 5.5, "dy": -1, "font": "Liberation Serif", "color": "#333"},
   "encoding": {"x": {"datum": 0.0054}, "y": {"datum": 10.25}, "text": {"field": "note"}}}
 ]}
]
}
